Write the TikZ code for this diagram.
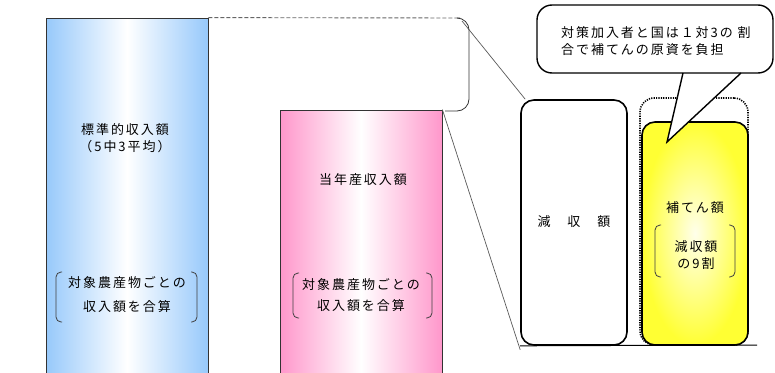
\documentclass[tikz,border=0pt]{standalone}
\usepackage{fontspec}
\setmainfont{Noto Sans CJK JP}[LetterSpace=15]
\begin{document}
\begin{tikzpicture}[x=1pt,y=-1pt,
  txt/.style={font=\fontsize{13}{17}\selectfont, inner sep=0pt, align=center},
  barbox/.style={draw=black!80, line width=0.8pt, inner sep=0pt},
  lead/.style={draw=black!65, line width=0.7pt},
  paren/.style={draw=black!75, line width=0.8pt, rounded corners=5pt},
  roundbox/.style={draw=black, line width=1.6pt, rounded corners=13pt, inner sep=0pt}]
\useasboundingbox (0,0) rectangle (775,372);
\clip (0,0) rectangle (775,372);
\definecolor{barblue}{HTML}{97C9FB}
\definecolor{barpink}{HTML}{FF97CB}
\definecolor{ylw}{HTML}{FFFF33}

% bars
\node[barbox, minimum width=162pt, minimum height=370pt,
  left color=barblue, right color=barblue, middle color=white] (std) at (127,203) {};
\node[barbox, minimum width=162pt, minimum height=280pt,
  left color=barpink, right color=barpink, middle color=white] (cur) at (361,250) {};

% texts in blue bar
\node[txt] (stdt) at (125,138.5) {標準的収入額\\（5中3平均）};
\node[txt] (stdb) at (127,294.5) {対象農産物ごとの\\[7pt]収入額を合算};
\draw[paren] (62,272) -- (56,272) -- (56,322) -- (62,322);
\draw[paren] (191,272) -- (197,272) -- (197,322) -- (191,322);

% texts in pink bar
\node[txt] (curt) at (363,180) {当年産収入額};
\node[txt] (curb) at (361,295.5) {対象農産物ごとの\\[4pt]収入額を合算};
\draw[paren] (299,273) -- (293,273) -- (293,318) -- (299,318);
\draw[paren] (426,273) -- (432,273) -- (432,318) -- (426,318);

% brace and dashed line
\coordinate (bt) at (460,18);
\coordinate (bb) at (445,111);
\draw[draw=black!60, dash pattern=on 4pt off 2pt, line width=0.9pt] (std.north east) -- (bt);
\draw[draw=black!80, line width=0.8pt, rounded corners=12pt] (bt) -- (469,18) -- (469,111) -- (bb);

% reduction box, dotted box, compensation box
\node[draw=black, line width=1.6pt, dash pattern=on 1.2pt off 1.2pt, rounded corners=14pt, minimum width=108pt, minimum height=247pt] (dot) at (694,221.5) {};
\node[roundbox, minimum width=106pt, minimum height=245pt, fill=white] (gen) at (574,222.5) {};
\node[roundbox, minimum width=106pt, minimum height=223pt, inner color=yellow!8, outer color=ylw] (hot) at (695,233.5) {};
\draw[line width=1pt] (gen.south west) -- (757,345) coordinate (base);

\node[txt] (gent) at (574,222) {減　収　額};
\node[txt] (hott) at (695,208) {補てん額};
\node[txt] (hotb) at (696,255.5) {減収額\\の9割};
\draw[paren] (661,225) -- (655,225) -- (655,277) -- (661,277);
\draw[paren] (729,225) -- (735,225) -- (735,277) -- (729,277);

% leader lines
\draw[lead] (462,21) -- ([xshift=5pt]gen.north west);
\draw[lead] (cur.north east) -- ([yshift=-4pt]gen.south west);

% callout
\node[draw=black, line width=1.4pt, fill=white, rounded corners=15pt,
  minimum width=236pt, minimum height=68pt] (call) at (655,39) {};
\coordinate (pa) at (683,73);
\coordinate (pb) at (741,73);
\coordinate (tip) at (667,142);
\fill[white] ([yshift=-1.5pt]pa) -- (tip) -- ([yshift=-1.5pt]pb) -- cycle;
\draw[line width=1.4pt, line join=miter] (pa) -- (tip) -- (pb);
\node[txt, align=left, anchor=west] (callt) at (561,41.5) {対策加入者と国は１対3の 割\\合で補てんの原資を負担};
\end{tikzpicture}
\end{document}
